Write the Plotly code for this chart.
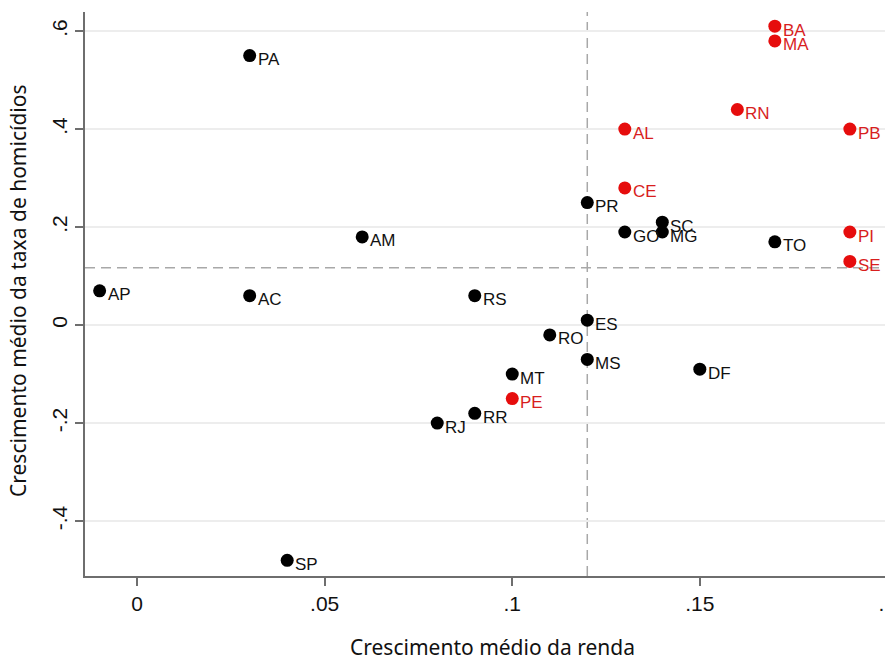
import plotly.graph_objects as go

# Data (state abbreviations, mean income growth, mean homicide-rate growth, group)
states = ["PA", "AP", "AC", "AM", "SP", "RS", "RJ", "RR", "MT", "PE", "RO", "ES", "MS", "DF",
          "PR", "GO", "SC", "MG", "TO", "CE", "AL", "RN", "BA", "MA", "PB", "PI", "SE"]
renda = [0.03, -0.01, 0.03, 0.06, 0.04, 0.09, 0.08, 0.09, 0.10, 0.10, 0.11, 0.12, 0.12, 0.15,
         0.12, 0.13, 0.14, 0.14, 0.17, 0.13, 0.13, 0.16, 0.17, 0.17, 0.19, 0.19, 0.19]
homicidios = [0.55, 0.07, 0.06, 0.18, -0.48, 0.06, -0.20, -0.18, -0.10, -0.15, -0.02, 0.01, -0.07, -0.09,
              0.25, 0.19, 0.21, 0.19, 0.17, 0.28, 0.40, 0.44, 0.61, 0.58, 0.40, 0.19, 0.13]
nordeste = ["PE", "CE", "AL", "RN", "BA", "MA", "PB", "PI", "SE"]

ref_x = 0.12
ref_y = 0.117

x_ticks = [0, 0.05, 0.1, 0.15, 0.2]
x_tick_text = ["0", ".05", ".1", ".15", ".2"]
y_ticks = [-0.4, -0.2, 0, 0.2, 0.4, 0.6]
y_tick_text = ["-.4", "-.2", "0", ".2", ".4", ".6"]

x_title = "Crescimento médio da renda"
y_title = "Crescimento médio da taxa de homicídios"

RED = "#e60d0d"
RED_TXT = "#d81e1e"
BLACK = "#000000"

colors = [RED if s in nordeste else BLACK for s in states]
txt_colors = [RED_TXT if s in nordeste else "#111111" for s in states]

fig = go.Figure()
fig.add_trace(go.Scatter(
    x=renda, y=homicidios, mode="markers",
    marker=dict(size=13, color=colors, line=dict(width=0)),
    cliponaxis=False, showlegend=False, hoverinfo="text", text=states,
))

title_font = dict(family="Noto Sans, Open Sans, sans-serif", size=21, color="#111111")

annotations = []
for s, xv, yv, c in zip(states, renda, homicidios, txt_colors):
    annotations.append(dict(
        x=xv, y=yv, xref="x", yref="y", text=s, showarrow=False,
        xanchor="left", yanchor="middle", xshift=6, yshift=-4,
        font=dict(family="Liberation Sans, Arial, sans-serif", size=17, color=c),
    ))
annotations.append(dict(
    x=0.5, y=0, xref="paper", yref="paper", text=x_title, showarrow=False,
    xanchor="center", yanchor="middle", yshift=-71, xshift=3, font=title_font,
))
annotations.append(dict(
    x=0, y=0.5, xref="paper", yref="paper", text=y_title, showarrow=False,
    textangle=-90, xanchor="center", yanchor="middle", xshift=-67, yshift=3,
    font=title_font,
))

fig.add_shape(type="line", xref="x", yref="paper", x0=ref_x, x1=ref_x, y0=0, y1=1,
              line=dict(color="#a8a8a8", width=1.5, dash="10px,6px"), layer="below")
fig.add_shape(type="line", xref="paper", yref="y", x0=0, x1=1, y0=ref_y, y1=ref_y,
              line=dict(color="#a8a8a8", width=1.5, dash="10px,6px"), layer="below")

axis_font = dict(family="Liberation Sans, Arial, sans-serif", size=21, color="#111111")

# page body has an 8px margin, so the figure is sized and offset to fill the 893x660 window
fig.update_layout(
    width=885, height=652,
    margin=dict(l=77, r=0, t=4, b=84, autoexpand=False),
    plot_bgcolor="white", paper_bgcolor="white",
    annotations=annotations,
    xaxis=dict(
        range=[-0.0139, 0.2015], tickvals=x_ticks, ticktext=x_tick_text,
        showgrid=False, zeroline=False, showline=True, linecolor="#6e6e6e", linewidth=2,
        ticks="outside", ticklen=8, tickwidth=1.5, tickcolor="#6e6e6e",
        tickfont=axis_font, ticklabeloverflow="allow", automargin=False,
    ),
    yaxis=dict(
        range=[-0.512, 0.639], tickvals=y_ticks, ticktext=y_tick_text,
        showgrid=True, gridcolor="#ededed", gridwidth=1.5, zeroline=False,
        showline=True, linecolor="#6e6e6e", linewidth=2,
        ticks="outside", ticklen=8, tickwidth=1.5, tickcolor="#6e6e6e",
        tickfont=axis_font, tickangle=-90, ticklabeloverflow="allow", automargin=False,
    ),
)

fig.write_html("out.html")
